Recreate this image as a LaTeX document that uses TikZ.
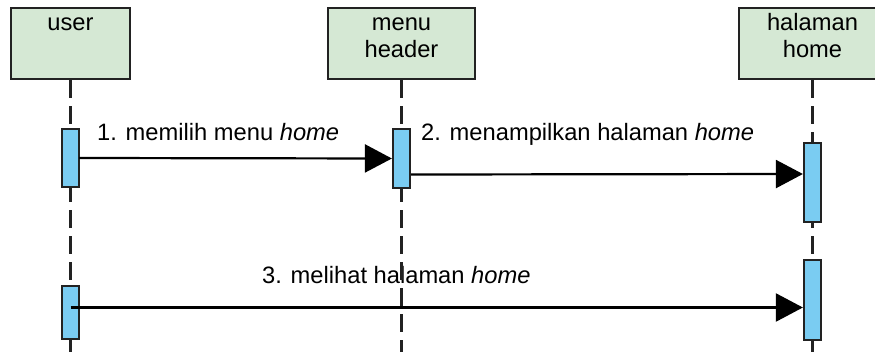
\documentclass[tikz,border=0pt]{standalone}
\usepackage{fontspec}
\setmainfont{Liberation Sans}
\usetikzlibrary{arrows.meta}
\definecolor{boxgreen}{HTML}{D5E8D4}
\definecolor{actblue}{HTML}{7ACCF2}
\definecolor{edge}{HTML}{222222}
\tikzset{
  lbox/.style={draw=edge, line width=2.4pt, fill=boxgreen, inner sep=4pt, rectangle},
  act/.style={draw=edge, line width=2.2pt, fill=actblue, inner sep=0pt, minimum width=17pt, rectangle},
  life/.style={draw=edge, line width=2.2pt, dash pattern=on 18pt off 8pt},
  msg/.style={draw=black, line width=2.2pt, -{Triangle[length=27pt,width=28pt]}},
  txt/.style={font=\fontsize{23.7}{27}\selectfont, inner sep=0pt, anchor=base west, text=black}
}
\begin{document}
\begin{tikzpicture}[x=1pt,y=-1pt]
\clip (0,0) rectangle (875,351);
\fill[white] (0,0) rectangle (875,351);
% labels
\node[txt] (l1) at (97,140) {1. memilih menu \textit{home}};
\node[txt] (l2) at (421,140) {2. menampilkan halaman \textit{home}};
\node[txt] (l3) at (262,283) {3. melihat halaman \textit{home}};
% header boxes
\node[lbox] (user) at (70.5,43.5) {\parbox[t][63pt][t]{111pt}{\centering\fontsize{23.7}{27}\selectfont\strut user}};
\node[lbox] (menu) at (401.5,43.5) {\parbox[t][63pt][t]{139pt}{\centering\fontsize{23.7}{27}\selectfont\strut menu\\ header}};
\node[lbox] (home) at (812.5,43.5) {\parbox[t][63pt][t]{139pt}{\centering\fontsize{23.7}{27}\selectfont\strut halaman\\ home}};
% lifeline ends
\coordinate (userend) at (70.5,360);
\coordinate (menuend) at (401.5,360);
\coordinate (homeend) at (812.5,360);
\draw[life] (user.south) -- (userend);
\draw[life] (menu.south) -- (menuend);
\draw[life] (home.south) -- (homeend);
% activations
\node[act, minimum height=58pt] (ua1) at (70.5,158) {};
\node[act, minimum height=59pt] (ma) at (401.5,158.5) {};
\node[act, minimum height=79pt] (ha1) at (812.5,182.5) {};
\node[act, minimum height=80pt] (ha2) at (812.5,300) {};
\node[act, minimum height=53pt] (ua2) at (70.5,312.5) {};
% messages
\draw[msg] ([xshift=-1pt]ua1.east) -- (ma.west);
\draw[msg] ([yshift=-16pt]ma.east) -- ([yshift=8.5pt]ha1.west);
\draw[msg] ([yshift=5pt]ua2.center) -- ([yshift=-7.5pt]ha2.west);
\end{tikzpicture}
\end{document}
